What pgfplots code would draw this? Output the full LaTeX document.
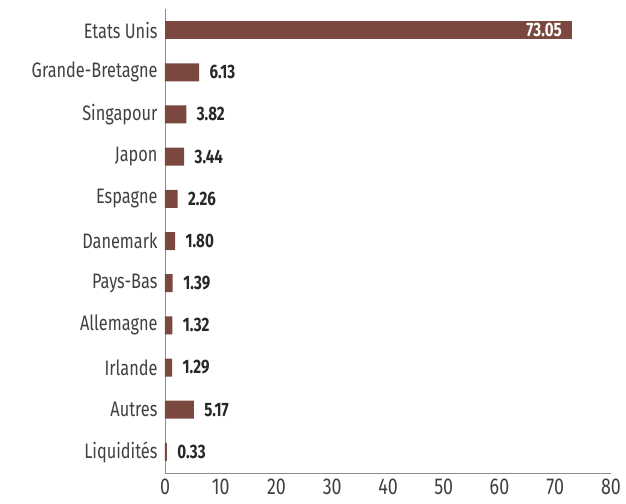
\documentclass[border=0pt]{standalone}
\usepackage{fontspec}
\setmainfont{Fira Sans}[FakeStretch=0.78]
\usepackage{pgfplots}
\pgfplotsset{compat=1.18}
\definecolor{barc}{RGB}{123,72,64}
\definecolor{txt}{RGB}{64,64,64}
\definecolor{val}{RGB}{40,40,40}
\begin{document}
\begin{tikzpicture}
\begin{axis}[
  at={(0,0)}, anchor=south west,
  scale only axis, width=446bp, height=464bp,
  xbar, bar width=18bp, bar shift=0pt,
  xmin=0, xmax=80, ymin=-0.5, ymax=10.5,
  y dir=reverse,
  ytick={0,...,10},
  yticklabels={Etats Unis,Grande-Bretagne,Singapour,Japon,Espagne,Danemark,Pays-Bas,Allemagne,Irlande,Autres,Liquidités},
  xtick={0,10,...,80},
  axis x line*=bottom, axis y line*=left,
  axis line style={draw=black!45, line width=0.8pt},
  major tick length=0pt,
  x axis line style={-}, y axis line style={-},
  xticklabel style={font=\fontsize{23}{23}\selectfont, text=txt, yshift=-2bp},
  yticklabel style={font=\fontsize{21}{21}\selectfont, text=txt, xshift=-4bp},
  /pgf/number format/assume math mode=true,
  nodes near coords={\pgfmathprintnumber[fixed,fixed zerofill,precision=2]{\pgfplotspointmeta}},
  every node near coord/.append style={font=\bfseries\fontsize{19.5}{19.5}\selectfont, text=val, anchor=west, xshift=7bp},
]
\addplot[draw=none, fill=barc,
  every node near coord/.append style={anchor=east, xshift=-14bp, text=white}]
  coordinates {(73.05,0)};
\addplot[draw=none, fill=barc] coordinates {
  (6.13,1) (3.82,2) (3.44,3) (2.26,4) (1.80,5) (1.39,6) (1.32,7) (1.29,8) (5.17,9) (0.33,10)};
\end{axis}
\pgfresetboundingbox
\path[use as bounding box] (-165bp,-31bp) rectangle (461bp,473bp);
\end{tikzpicture}
\end{document}
